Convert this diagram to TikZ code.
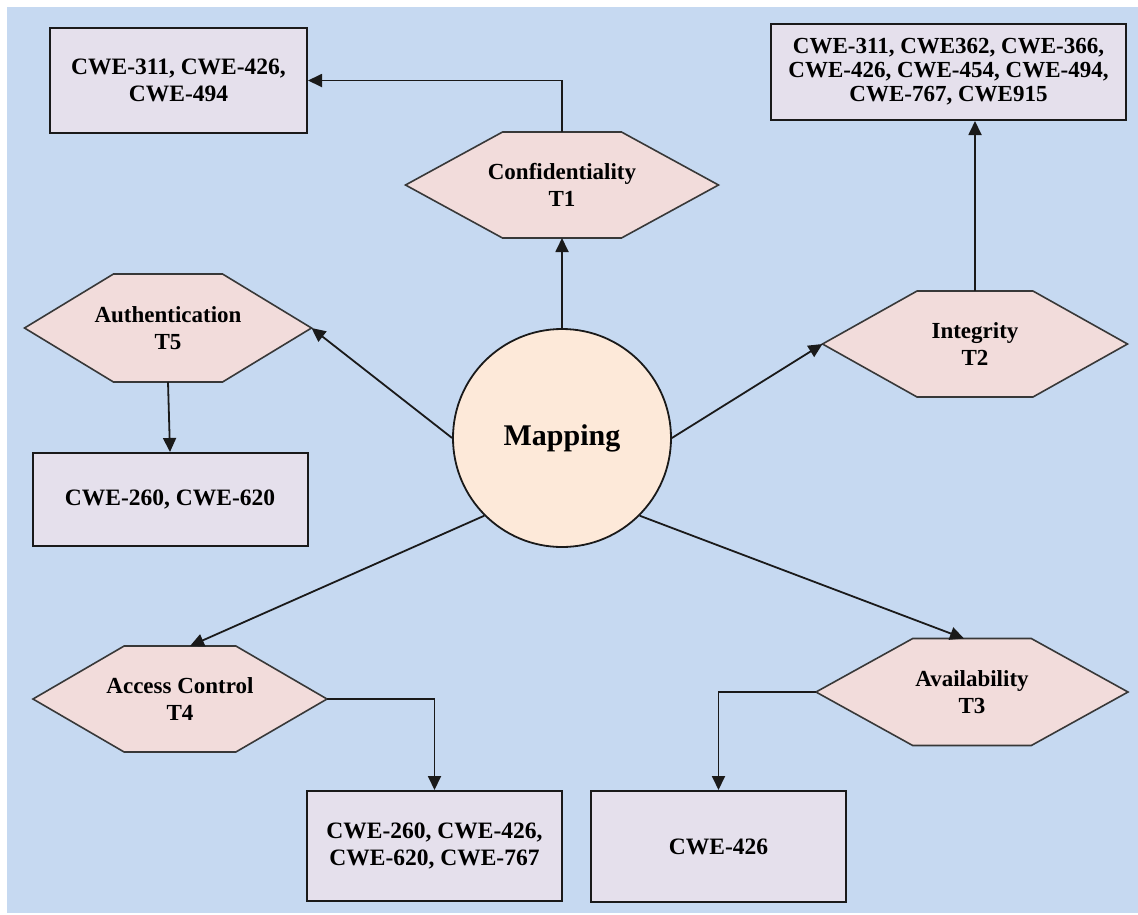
\documentclass[tikz,border=0pt]{standalone}
\usepackage{fontspec}
\setmainfont{Liberation Serif}
\usetikzlibrary{arrows.meta, positioning, calc, backgrounds}
\definecolor{bgblue}{HTML}{C6D9F1}
\definecolor{boxfill}{HTML}{E5E0EC}
\definecolor{hexfill}{HTML}{F2DCDB}
\definecolor{circfill}{HTML}{FDE9D9}
\definecolor{linegray}{HTML}{1A1A1A}
\definecolor{hexgray}{HTML}{383838}
\tikzstyle{arrow}   = [line width=1.8pt, draw=linegray, -{Triangle[length=14pt,width=13pt]}]
\tikzstyle{cwebox}  = [rectangle, draw=linegray, line width=2pt, fill=boxfill, inner sep=0pt, font=\bfseries\fontsize{23.5}{27}\selectfont]
\tikzstyle{hexnode} = [rectangle, inner sep=0pt, outer sep=0pt, font=\bfseries\fontsize{23}{27}\selectfont]
\tikzstyle{hexline} = [draw=hexgray, line width=1.6pt, fill=hexfill]
\tikzset{every node/.style={align=center}}

\begin{document}
\begin{tikzpicture}[x=1pt, y=-1pt]
    \useasboundingbox (0,0) rectangle (1138,914);
    % Centre
    \node (map)    at (562,438)     [circle, draw=linegray, line width=1.8pt, fill=circfill, minimum size=218pt, inner sep=0pt, font=\bfseries\fontsize{30}{34}\selectfont] {Mapping};
    % Top row: T1 and its CWE boxes
    \node (cweconf)  at (178.5,80.5)  [cwebox, minimum width=257pt, minimum height=105pt] {CWE-311, CWE-426,\\CWE-494};
    \node (conf)     at (562,185)     [hexnode, minimum width=313pt, minimum height=106pt] {Confidentiality\\T1};
    \node (cweinteg) at (948.5,72)    [cwebox, minimum width=355pt, minimum height=96pt, font=\bfseries\fontsize{23}{24}\selectfont] {CWE-311, CWE362, CWE-366,\\CWE-426, CWE-454, CWE-494,\\CWE-767, CWE915};
    % Middle row: T5 (left) and T2 (right)
    \node (auth)     at (168,328)     [hexnode, minimum width=287pt, minimum height=108pt] {Authentication\\T5};
    \node (cweauth)  at (170,499.5)   [cwebox, minimum width=275pt, minimum height=93pt] {CWE-260, CWE-620};
    \node (integ)    at (975,344)     [hexnode, minimum width=305pt, minimum height=106pt] {Integrity\\T2};
    % Bottom row: T4 (left) and T3 (right)
    \node (access)   at (180,699)     [hexnode, minimum width=294pt, minimum height=106pt] {Access Control\\T4};
    \node (cweacc)   at (434.5,846)   [cwebox, minimum width=255pt, minimum height=110pt] {CWE-260, CWE-426,\\CWE-620, CWE-767};
    \node (avail)    at (972,692)     [hexnode, minimum width=312pt, minimum height=107pt] {Availability\\T3};
    \node (cweavail) at (718.5,846.5) [cwebox, minimum width=255pt, minimum height=111pt] {CWE-426};

    % background and hexagon outlines behind the texts
    \begin{scope}[on background layer]
        \fill[bgblue] (7,7) rectangle (1138,913);
        \foreach \h in {conf, integ, auth, access, avail}
            \draw[hexline] (\h.west) -- ($(\h.north west)!0.31!(\h.north east)$) -- ($(\h.north east)!0.31!(\h.north west)$)
                -- (\h.east) -- ($(\h.south east)!0.31!(\h.south west)$) -- ($(\h.south west)!0.31!(\h.south east)$) -- cycle;
    \end{scope}

    \draw [arrow] (map.north)  -- (conf.south);
    \draw [arrow] (conf.north) |- (cweconf.east);
    \draw [arrow] (map.east)   -- (integ.west);
    \draw [arrow] (integ.north) -- (integ.north |- cweinteg.south);
    \draw [arrow] (map.west)   -- (auth.east);
    \draw [arrow] (auth.south) -- (cweauth.north);
    \draw [arrow] (map.225)    -- ([xshift=10pt]access.north);
    \draw [arrow] (access.east) -| (cweacc.north);
    \draw [arrow] (map.-45)    -- ([xshift=-8pt]avail.north);
    \draw [arrow] (avail.west) -| (cweavail.north);
\end{tikzpicture}
\end{document}
